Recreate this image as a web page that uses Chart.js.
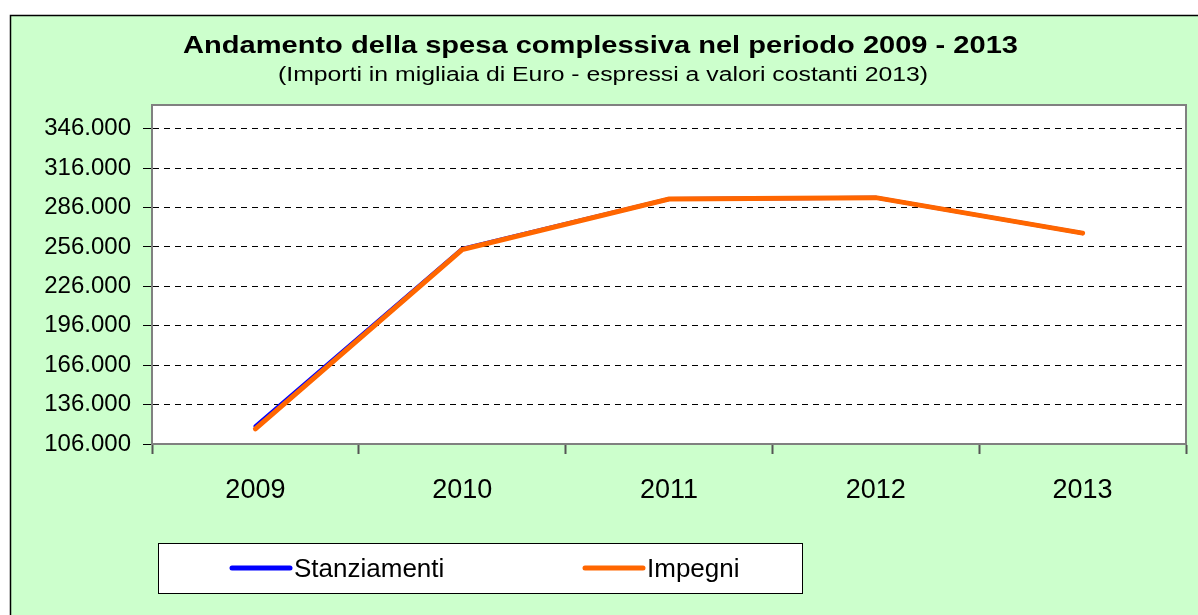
<!DOCTYPE html>
<html lang="it">
<head>
  <meta charset="UTF-8">
  <title>Andamento della spesa complessiva</title>
  <script src="https://cdn.jsdelivr.net/npm/chart.js"></script>
  <style>
    html, body { margin: 0; padding: 0; background: #fff; }
    #wrap { width: 1198px; height: 615px; }
  </style>
</head>
<body>
  <div id="wrap"><canvas id="spesaChart" width="1198" height="615"></canvas></div>

  <script>
    // dati (migliaia di euro)
    const anni = ['2009', '2010', '2011', '2012', '2013'];
    const stanziamenti = [119500, 254500, 292500, 293500, 266500];
    const impegni = [117500, 254000, 292500, 293500, 266500];
    const yTicks = [106000, 136000, 166000, 196000, 226000, 256000, 286000, 316000, 346000];
    const yMin = 106000, yMax = 364000;

    const titolo = 'Andamento della spesa complessiva nel periodo 2009 - 2013';
    const sottotitolo = '(Importi in migliaia di Euro - espressi a valori costanti 2013)';

    const FONT = '"Liberation Sans", Arial, sans-serif';

    function fmt(v) {
      return String(v).replace(/\B(?=(\d{3})+(?!\d))/g, '.');
    }

    // scrive un testo allargandolo fino alla larghezza voluta
    function testoLargo(ctx, txt, cx, y, larghezza) {
      const w = ctx.measureText(txt).width;
      ctx.save();
      ctx.translate(cx, y);
      ctx.scale(larghezza / w, 1);
      ctx.textAlign = 'center';
      ctx.fillText(txt, 0, 0);
      ctx.restore();
    }

    const sfondo = {
      id: 'sfondo',
      beforeDraw(chart) {
        const ctx = chart.ctx, a = chart.chartArea;
        ctx.save();
        ctx.fillStyle = '#fff';
        ctx.fillRect(0, 0, chart.width, chart.height);
        ctx.fillStyle = '#CCFFCC';
        ctx.fillRect(10, 15, chart.width, chart.height);
        ctx.strokeStyle = '#000';
        ctx.lineWidth = 1.5;
        ctx.strokeRect(10.5, 15.5, chart.width + 10, chart.height + 10);
        ctx.fillStyle = '#fff';
        ctx.fillRect(a.left, a.top, a.right - a.left, a.bottom - a.top);
        ctx.restore();
      },
      afterDraw(chart) {
        const ctx = chart.ctx, a = chart.chartArea;
        ctx.save();
        // bordo area del grafico
        ctx.strokeStyle = '#808080';
        ctx.lineWidth = 2;
        ctx.strokeRect(a.left, a.top, a.right - a.left, a.bottom - a.top);

        // titoli
        ctx.fillStyle = '#000';
        ctx.textBaseline = 'alphabetic';
        ctx.font = 'bold 24px ' + FONT;
        testoLargo(ctx, titolo, 600.5, 53, 835);
        ctx.font = '20px ' + FONT;
        testoLargo(ctx, sottotitolo, 603, 81, 650);

        // legenda
        ctx.fillStyle = '#fff';
        ctx.fillRect(158, 543, 644, 50);
        ctx.strokeStyle = '#000';
        ctx.lineWidth = 1;
        ctx.strokeRect(158.5, 543.5, 644, 50);
        const pos = [232, 585];
        chart.data.datasets.forEach((ds, i) => {
          const x = pos[i];
          ctx.strokeStyle = ds.borderColor;
          ctx.lineWidth = 5;
          ctx.lineCap = 'round';
          ctx.beginPath();
          ctx.moveTo(x, 568);
          ctx.lineTo(x + 58, 568);
          ctx.stroke();
          ctx.fillStyle = '#000';
          ctx.font = '26px ' + FONT;
          ctx.textAlign = 'left';
          ctx.textBaseline = 'alphabetic';
          ctx.fillText(ds.label, x + 62, 577);
        });
        ctx.restore();
      }
    };

    new Chart(document.getElementById('spesaChart'), {
      type: 'line',
      data: {
        labels: anni,
        datasets: [
          {
            label: 'Stanziamenti',
            data: stanziamenti,
            borderColor: '#0000FF',
            borderWidth: 4,
            order: 1
          },
          {
            label: 'Impegni',
            data: impegni,
            borderColor: '#FF6600',
            borderWidth: 5,
            order: 0
          }
        ]
      },
      options: {
        responsive: false,
        animation: false,
        devicePixelRatio: 1,
        layout: { padding: { left: 0, top: 105, right: 12, bottom: 0 } },
        elements: {
          point: { radius: 0 },
          line: { tension: 0, borderCapStyle: 'round', borderJoinStyle: 'miter', fill: false }
        },
        plugins: {
          legend: { display: false },
          title: { display: false },
          tooltip: { enabled: false }
        },
        scales: {
          x: {
            offset: true,
            afterFit(scale) { scale.height = 171; },
            grid: {
              offset: true,
              drawOnChartArea: false,
              drawTicks: true,
              tickLength: 10,
              tickColor: '#555',
              tickWidth: 2
            },
            border: { color: '#555', width: 2 },
            ticks: {
              color: '#000',
              font: { family: FONT, size: 27 },
              padding: 20,
              maxRotation: 0
            }
          },
          y: {
            min: yMin,
            max: yMax,
            afterFit(scale) { scale.width = 152; },
            afterBuildTicks(scale) { scale.ticks = yTicks.map(v => ({ value: v })); },
            grid: {
              color: '#000',
              lineWidth: 1,
              tickLength: 9,
              tickColor: '#000',
              tickBorderDash: []
            },
            border: { color: '#555', width: 2, dash: [6, 5] },
            ticks: {
              color: '#000',
              font: { family: FONT, size: 24 },
              padding: 12,
              callback: v => fmt(v)
            }
          }
        }
      },
      plugins: [sfondo]
    });
  </script>
</body>
</html>
